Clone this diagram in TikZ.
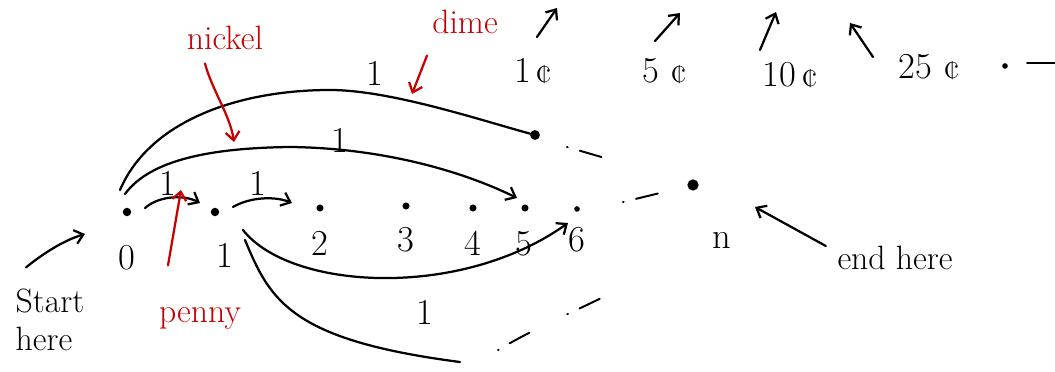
\documentclass[tikz,border=0pt]{standalone}
\usepackage{tikz}
\usetikzlibrary{positioning, arrows.meta}
\definecolor{rouge}{RGB}{200,0,0}

\begin{document}
\begin{tikzpicture}[
  x=0.025cm, y=-0.025cm,
  pt/.style={circle, fill, inner sep=0pt, minimum size=6pt},
  num/.style={font=\fontsize{26}{28}\selectfont, inner sep=1pt},
  note/.style={font=\fontsize{24}{25}\selectfont, align=left, inner sep=1pt},
  pen/.style={line width=1.6pt, line cap=round,
              -{Straight Barb[length=6pt, width=10pt, line width=1.6pt]}},
  redpen/.style={pen, rouge},
  trail/.style={line width=1.4pt, line cap=round,
                dash pattern=on 0.5pt off 9pt on 16pt off 30pt}
]

  \useasboundingbox (0,0) rectangle (1055,372);

  %=========================================================
  % 1. Les sommets 0,1,...,6 et n
  %=========================================================
  \node[pt] (v0) at (127,212) {};
  \node[pt] (v1) at (215,212) {};
  \node[pt, minimum size=5pt] (v2) at (320,208) {};
  \node[pt, minimum size=5pt] (v3) at (406,206) {};
  \node[pt, minimum size=5pt] (v4) at (473,208) {};
  \node[pt, minimum size=5pt] (v5) at (525,208) {};
  \node[pt, minimum size=4pt] (v6) at (577,209) {};
  \node[pt, minimum size=8pt] (vn) at (693,185) {};
  \node[pt, minimum size=7pt] (vd) at (535,135) {};

  \node[num] (l0) at (127,258) {0};
  \node[num] (l1) at (225,255) {1};
  \node[num] (l2) at (320,243) {2};
  \node[num] (l3) at (406,240) {3};
  \node[num] (l4) at (473,243) {4};
  \node[num] (l5) at (524,244) {5};
  \node[num] (l6) at (577,240) {6};
  \node[num] (ln) at (722,240) {n};

  %=========================================================
  % 2. Les aretes de poids 1
  %=========================================================
  % --- penny : i -> i+1 ---
  \draw[pen] (v0) ++(18,-4) coordinate (p0)
    .. controls (160,195) and (185,195) .. (200,203);
  \node[num] at (168,183) {1};
  \draw[pen] (v1) ++(18,-5) coordinate (p1)
    .. controls (250,197) and (275,196) .. (292,203);
  \node[num] at (258,183) {1};

  % --- nickel : 0 -> 5 ---
  \draw[pen] (v0) ++(-2,-18)
    .. controls (150,160) and (210,148) .. (290,147)
    .. controls (380,148) and (460,170) .. (517,198);
  \node[num] at (340,140) {1};

  % --- dime : 0 -> 10 ---
  \draw[line width=1.6pt, line cap=round] (v0) ++(-7,-22)
    .. controls (150,120) and (240,90) .. (330,90)
    .. controls (390,90) and (480,120) .. (vd);
  \node[num] at (375,73) {1};

  % --- 1 -> 6 ---
  \draw[pen] (v1) ++(28,18)
    .. controls (290,290) and (460,300) .. (568,223);
  \node[num] at (425,312) {1};

  % --- 1 -> ... ---
  \draw[line width=1.6pt, line cap=round] (v1) ++(30,28)
    .. controls (270,300) and (290,340) .. (460,362);
  \draw[trail] (498,350) .. controls (540,325) and (590,305) .. (627,285);

  % --- pointilles ---
  \draw[trail] (vd) ++(32,12) -- ++(55,16);
  \draw[trail] (v6) ++(46,-7) -- (vn);

  %=========================================================
  % 3. Les pieces en haut
  %=========================================================
  \node[num] (c1)  at (533,71) {1\,¢};
  \node[num] (c5)  at (664,71) {5\,\,¢};
  \node[num] (c10) at (790,75) {10\,¢};
  \node[num] (c25) at (929,67) {25\,\,¢};
  \node[pt, minimum size=4pt] (cd) at (1005,66) {};
  \coordinate (ce) at (1055,63);
  \draw[trail, dash pattern=on 70pt off 1pt] (cd) ++(22,-3) -- (ce);

  \coordinate (b1)  at (537,37);   \coordinate (a1)  at (557,8);
  \coordinate (b5)  at (655,41);   \coordinate (a5)  at (680,13);
  \coordinate (b10) at (760,50);   \coordinate (a10) at (776,12);
  \coordinate (b25) at (873,57);   \coordinate (a25) at (850,23);
  \draw[pen] (b1)  -- (a1);
  \draw[pen] (b5)  -- (a5);
  \draw[pen] (b10) -- (a10);
  \draw[pen] (b25) -- (a25);

  %=========================================================
  % 4. Annotations
  %=========================================================
  \node[note] (start) at (50,320) {Start\\[2pt]here};
  \draw[pen] (start.north west) ++(12,-20)
    .. controls (45,252) and (65,240) .. (85,234);

  \node[note] (fin) at (895,258) {end here};
  \draw[pen] (fin.west) ++(-10,-12) -- (755,207);

  \node[note, rouge] (penny)  at (200,318) {penny};
  \draw[redpen] (penny.north) ++(-32,-40) -- (181,190);

  \node[note, rouge] (nickel) at (225,38) {nickel};
  \draw[redpen] (nickel.south) ++(-20,12)
    .. controls (212,90) and (230,115) .. (234,142);

  \node[note, rouge] (dime) at (465,22) {dime};
  \draw[redpen] (dime.south) ++(-38,20) -- (412,94);

\end{tikzpicture}
\end{document}
